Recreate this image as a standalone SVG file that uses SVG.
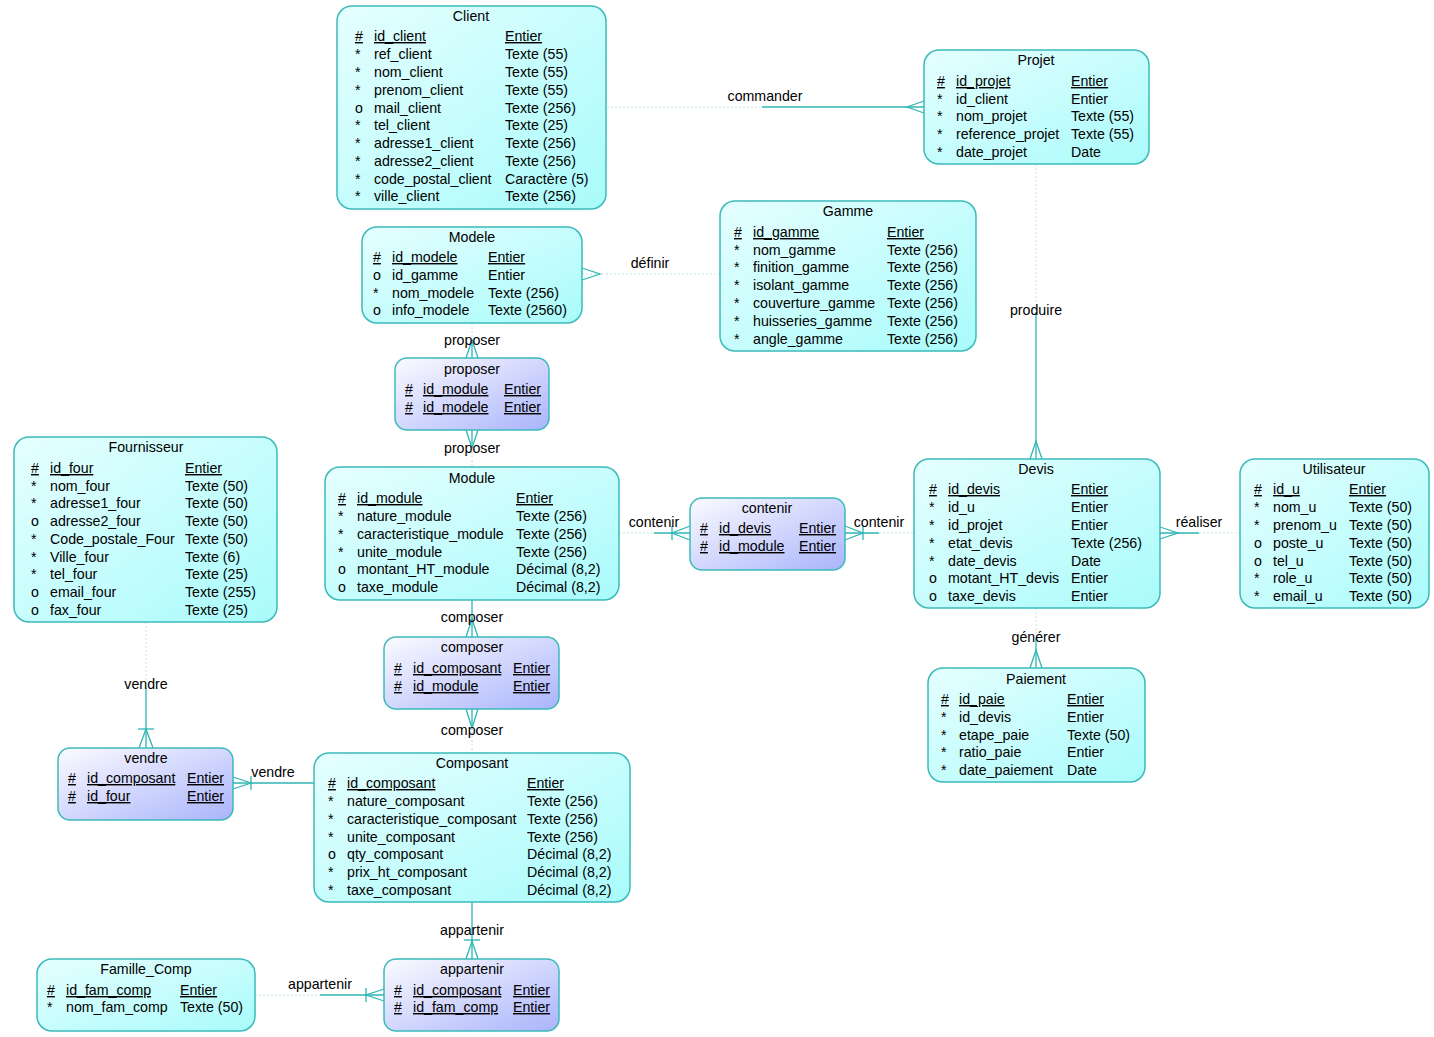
<svg xmlns="http://www.w3.org/2000/svg" width="1434" height="1037" viewBox="0 0 1434 1037">
<defs>
<linearGradient id="gEnt" x1="0" y1="0" x2="1" y2="1">
<stop offset="0" stop-color="#e6ffff"/>
<stop offset="1" stop-color="#a9fbfb"/>
</linearGradient>
<linearGradient id="gRel" x1="0" y1="0" x2="1" y2="1">
<stop offset="0" stop-color="#fbfbff"/>
<stop offset="1" stop-color="#aab4fb"/>
</linearGradient>
</defs>
<style>
text{font-family:"Liberation Sans",Arial,sans-serif;font-size:14.2px;fill:#000}
.t{text-anchor:middle}
.pk{text-decoration:underline;text-decoration-thickness:2px}
.ent{fill:url(#gEnt);stroke:#3bbaba;stroke-width:1.5}
.rel{fill:url(#gRel);stroke:#3bbaba;stroke-width:1.5}
.s{stroke:#2fb5b5;stroke-width:1.3;fill:none}
.f{stroke:#bfe6e6;stroke-width:1;fill:none;stroke-dasharray:2 2}
</style>
<rect width="1434" height="1037" fill="#fff"/>

<g id="connectors">
<line class="f" x1="607" y1="107" x2="762" y2="107"/>
<line class="s" x1="762" y1="107" x2="924" y2="107"/>
<polyline class="s" points="924,101 907,107 924,113"/>
<text class="t" x="765" y="101">commander</text>
<line class="f" x1="582" y1="274" x2="720" y2="274"/>
<polyline class="s" points="582,268 600,274 582,280"/>
<text class="t" x="650" y="268">définir</text>
<line class="f" x1="472" y1="323" x2="472" y2="342"/>
<line class="s" x1="472" y1="340" x2="472" y2="358"/>
<polyline class="s" points="466,358 472,340 478,358"/>
<text class="t" x="472" y="345">proposer</text>
<line class="s" x1="472" y1="430" x2="472" y2="448"/>
<polyline class="s" points="466,430 472,448 478,430"/>
<line class="f" x1="472" y1="448" x2="472" y2="467"/>
<text class="t" x="472" y="453">proposer</text>
<line class="f" x1="619" y1="533" x2="654" y2="533"/>
<line class="s" x1="654" y1="533" x2="690" y2="533"/>
<polyline class="s" points="690,526 672,533 690,540"/>
<line class="s" x1="672" y1="526" x2="672" y2="540"/>
<text class="t" x="654" y="527">contenir</text>
<line class="s" x1="845" y1="533" x2="879" y2="533"/>
<polyline class="s" points="845,526 863,533 845,540"/>
<line class="s" x1="863" y1="526" x2="863" y2="540"/>
<line class="f" x1="879" y1="533" x2="914" y2="533"/>
<text class="t" x="879" y="527">contenir</text>
<line class="s" x1="1160" y1="533" x2="1199" y2="533"/>
<polyline class="s" points="1160,527 1178,533 1160,539"/>
<line class="f" x1="1199" y1="533" x2="1240" y2="533"/>
<text class="t" x="1199" y="527">réaliser</text>
<line class="f" x1="1036" y1="164" x2="1036" y2="312"/>
<line class="s" x1="1036" y1="312" x2="1036" y2="459"/>
<polyline class="s" points="1030,459 1036,441 1042,459"/>
<text class="t" x="1036" y="315">produire</text>
<line class="f" x1="1036" y1="608" x2="1036" y2="638"/>
<line class="s" x1="1036" y1="638" x2="1036" y2="668"/>
<polyline class="s" points="1030,668 1036,650 1042,668"/>
<text class="t" x="1036" y="642">générer</text>
<line class="s" x1="472" y1="600" x2="472" y2="637"/>
<polyline class="s" points="466,637 472,619 478,637"/>
<text class="t" x="472" y="622">composer</text>
<line class="s" x1="472" y1="709" x2="472" y2="728"/>
<polyline class="s" points="466,709 472,728 478,709"/>
<line class="f" x1="472" y1="728" x2="472" y2="753"/>
<text class="t" x="472" y="735">composer</text>
<line class="f" x1="146" y1="622" x2="146" y2="688"/>
<line class="s" x1="146" y1="688" x2="146" y2="748"/>
<polyline class="s" points="139,748 146,729 153,748"/>
<line class="s" x1="138" y1="729" x2="154" y2="729"/>
<text class="t" x="146" y="689">vendre</text>
<line class="s" x1="233" y1="783" x2="314" y2="783"/>
<polyline class="s" points="233,777 251,783 233,789"/>
<line class="s" x1="251" y1="776" x2="251" y2="790"/>
<text class="t" x="273" y="777">vendre</text>
<line class="s" x1="472" y1="902" x2="472" y2="959"/>
<polyline class="s" points="466,959 472,941 478,959"/>
<line class="s" x1="464" y1="940" x2="480" y2="940"/>
<text class="t" x="472" y="935">appartenir</text>
<line class="f" x1="255" y1="995" x2="320" y2="995"/>
<line class="s" x1="320" y1="995" x2="384" y2="995"/>
<polyline class="s" points="384,989 366,995 384,1001"/>
<line class="s" x1="366" y1="988" x2="366" y2="1002"/>
<text class="t" x="320" y="989">appartenir</text>
</g>

<g id="Client">
<rect class="ent" x="337" y="6" width="269" height="203" rx="15"/>
<text class="t" x="471" y="21">Client</text>
<text class="pk" x="355" y="41">#</text><text class="pk" x="374" y="41">id_client</text><text class="pk" x="505" y="41">Entier</text>
<text x="355" y="59">*</text><text x="374" y="59">ref_client</text><text x="505" y="59">Texte (55)</text>
<text x="355" y="77">*</text><text x="374" y="77">nom_client</text><text x="505" y="77">Texte (55)</text>
<text x="355" y="95">*</text><text x="374" y="95">prenom_client</text><text x="505" y="95">Texte (55)</text>
<text x="355" y="113">o</text><text x="374" y="113">mail_client</text><text x="505" y="113">Texte (256)</text>
<text x="355" y="130">*</text><text x="374" y="130">tel_client</text><text x="505" y="130">Texte (25)</text>
<text x="355" y="148">*</text><text x="374" y="148">adresse1_client</text><text x="505" y="148">Texte (256)</text>
<text x="355" y="166">*</text><text x="374" y="166">adresse2_client</text><text x="505" y="166">Texte (256)</text>
<text x="355" y="184">*</text><text x="374" y="184">code_postal_client</text><text x="505" y="184">Caractère (5)</text>
<text x="355" y="201">*</text><text x="374" y="201">ville_client</text><text x="505" y="201">Texte (256)</text>
</g>

<g id="Projet">
<rect class="ent" x="924" y="50" width="225" height="114" rx="15"/>
<text class="t" x="1036" y="65">Projet</text>
<text class="pk" x="937" y="86">#</text><text class="pk" x="956" y="86">id_projet</text><text class="pk" x="1071" y="86">Entier</text>
<text x="937" y="104">*</text><text x="956" y="104">id_client</text><text x="1071" y="104">Entier</text>
<text x="937" y="121">*</text><text x="956" y="121">nom_projet</text><text x="1071" y="121">Texte (55)</text>
<text x="937" y="139">*</text><text x="956" y="139">reference_projet</text><text x="1071" y="139">Texte (55)</text>
<text x="937" y="157">*</text><text x="956" y="157">date_projet</text><text x="1071" y="157">Date</text>
</g>

<g id="Modele">
<rect class="ent" x="362" y="227" width="220" height="96" rx="15"/>
<text class="t" x="472" y="242">Modele</text>
<text class="pk" x="373" y="262">#</text><text class="pk" x="392" y="262">id_modele</text><text class="pk" x="488" y="262">Entier</text>
<text x="373" y="280">o</text><text x="392" y="280">id_gamme</text><text x="488" y="280">Entier</text>
<text x="373" y="298">*</text><text x="392" y="298">nom_modele</text><text x="488" y="298">Texte (256)</text>
<text x="373" y="315">o</text><text x="392" y="315">info_modele</text><text x="488" y="315">Texte (2560)</text>
</g>

<g id="Gamme">
<rect class="ent" x="720" y="201" width="256" height="150" rx="15"/>
<text class="t" x="848" y="216">Gamme</text>
<text class="pk" x="734" y="237">#</text><text class="pk" x="753" y="237">id_gamme</text><text class="pk" x="887" y="237">Entier</text>
<text x="734" y="255">*</text><text x="753" y="255">nom_gamme</text><text x="887" y="255">Texte (256)</text>
<text x="734" y="272">*</text><text x="753" y="272">finition_gamme</text><text x="887" y="272">Texte (256)</text>
<text x="734" y="290">*</text><text x="753" y="290">isolant_gamme</text><text x="887" y="290">Texte (256)</text>
<text x="734" y="308">*</text><text x="753" y="308">couverture_gamme</text><text x="887" y="308">Texte (256)</text>
<text x="734" y="326">*</text><text x="753" y="326">huisseries_gamme</text><text x="887" y="326">Texte (256)</text>
<text x="734" y="344">*</text><text x="753" y="344">angle_gamme</text><text x="887" y="344">Texte (256)</text>
</g>

<g id="proposer">
<rect class="rel" x="395" y="358" width="154" height="72" rx="12"/>
<text class="t" x="472" y="374">proposer</text>
<text class="pk" x="405" y="394">#</text><text class="pk" x="423" y="394">id_module</text><text class="pk" x="504" y="394">Entier</text>
<text class="pk" x="405" y="412">#</text><text class="pk" x="423" y="412">id_modele</text><text class="pk" x="504" y="412">Entier</text>
</g>

<g id="Fournisseur">
<rect class="ent" x="14" y="437" width="263" height="185" rx="15"/>
<text class="t" x="146" y="452">Fournisseur</text>
<text class="pk" x="31" y="473">#</text><text class="pk" x="50" y="473">id_four</text><text class="pk" x="185" y="473">Entier</text>
<text x="31" y="491">*</text><text x="50" y="491">nom_four</text><text x="185" y="491">Texte (50)</text>
<text x="31" y="508">*</text><text x="50" y="508">adresse1_four</text><text x="185" y="508">Texte (50)</text>
<text x="31" y="526">o</text><text x="50" y="526">adresse2_four</text><text x="185" y="526">Texte (50)</text>
<text x="31" y="544">*</text><text x="50" y="544">Code_postale_Four</text><text x="185" y="544">Texte (50)</text>
<text x="31" y="562">*</text><text x="50" y="562">Ville_four</text><text x="185" y="562">Texte (6)</text>
<text x="31" y="579">*</text><text x="50" y="579">tel_four</text><text x="185" y="579">Texte (25)</text>
<text x="31" y="597">o</text><text x="50" y="597">email_four</text><text x="185" y="597">Texte (255)</text>
<text x="31" y="615">o</text><text x="50" y="615">fax_four</text><text x="185" y="615">Texte (25)</text>
</g>

<g id="Module">
<rect class="ent" x="325" y="467" width="294" height="133" rx="15"/>
<text class="t" x="472" y="483">Module</text>
<text class="pk" x="338" y="503">#</text><text class="pk" x="357" y="503">id_module</text><text class="pk" x="516" y="503">Entier</text>
<text x="338" y="521">*</text><text x="357" y="521">nature_module</text><text x="516" y="521">Texte (256)</text>
<text x="338" y="539">*</text><text x="357" y="539">caracteristique_module</text><text x="516" y="539">Texte (256)</text>
<text x="338" y="557">*</text><text x="357" y="557">unite_module</text><text x="516" y="557">Texte (256)</text>
<text x="338" y="574">o</text><text x="357" y="574">montant_HT_module</text><text x="516" y="574">Décimal (8,2)</text>
<text x="338" y="592">o</text><text x="357" y="592">taxe_module</text><text x="516" y="592">Décimal (8,2)</text>
</g>

<g id="contenir">
<rect class="rel" x="690" y="498" width="155" height="72" rx="12"/>
<text class="t" x="767" y="513">contenir</text>
<text class="pk" x="700" y="533">#</text><text class="pk" x="719" y="533">id_devis</text><text class="pk" x="799" y="533">Entier</text>
<text class="pk" x="700" y="551">#</text><text class="pk" x="719" y="551">id_module</text><text class="pk" x="799" y="551">Entier</text>
</g>

<g id="Devis">
<rect class="ent" x="914" y="459" width="246" height="149" rx="15"/>
<text class="t" x="1036" y="474">Devis</text>
<text class="pk" x="929" y="494">#</text><text class="pk" x="948" y="494">id_devis</text><text class="pk" x="1071" y="494">Entier</text>
<text x="929" y="512">*</text><text x="948" y="512">id_u</text><text x="1071" y="512">Entier</text>
<text x="929" y="530">*</text><text x="948" y="530">id_projet</text><text x="1071" y="530">Entier</text>
<text x="929" y="548">*</text><text x="948" y="548">etat_devis</text><text x="1071" y="548">Texte (256)</text>
<text x="929" y="566">*</text><text x="948" y="566">date_devis</text><text x="1071" y="566">Date</text>
<text x="929" y="583">o</text><text x="948" y="583">motant_HT_devis</text><text x="1071" y="583">Entier</text>
<text x="929" y="601">o</text><text x="948" y="601">taxe_devis</text><text x="1071" y="601">Entier</text>
</g>

<g id="Utilisateur">
<rect class="ent" x="1240" y="459" width="189" height="149" rx="15"/>
<text class="t" x="1334" y="474">Utilisateur</text>
<text class="pk" x="1254" y="494">#</text><text class="pk" x="1273" y="494">id_u</text><text class="pk" x="1349" y="494">Entier</text>
<text x="1254" y="512">*</text><text x="1273" y="512">nom_u</text><text x="1349" y="512">Texte (50)</text>
<text x="1254" y="530">*</text><text x="1273" y="530">prenom_u</text><text x="1349" y="530">Texte (50)</text>
<text x="1254" y="548">o</text><text x="1273" y="548">poste_u</text><text x="1349" y="548">Texte (50)</text>
<text x="1254" y="566">o</text><text x="1273" y="566">tel_u</text><text x="1349" y="566">Texte (50)</text>
<text x="1254" y="583">*</text><text x="1273" y="583">role_u</text><text x="1349" y="583">Texte (50)</text>
<text x="1254" y="601">*</text><text x="1273" y="601">email_u</text><text x="1349" y="601">Texte (50)</text>
</g>

<g id="Paiement">
<rect class="ent" x="928" y="668" width="217" height="114" rx="15"/>
<text class="t" x="1036" y="684">Paiement</text>
<text class="pk" x="941" y="704">#</text><text class="pk" x="959" y="704">id_paie</text><text class="pk" x="1067" y="704">Entier</text>
<text x="941" y="722">*</text><text x="959" y="722">id_devis</text><text x="1067" y="722">Entier</text>
<text x="941" y="740">*</text><text x="959" y="740">etape_paie</text><text x="1067" y="740">Texte (50)</text>
<text x="941" y="757">*</text><text x="959" y="757">ratio_paie</text><text x="1067" y="757">Entier</text>
<text x="941" y="775">*</text><text x="959" y="775">date_paiement</text><text x="1067" y="775">Date</text>
</g>

<g id="composer">
<rect class="rel" x="384" y="637" width="175" height="72" rx="12"/>
<text class="t" x="472" y="652">composer</text>
<text class="pk" x="394" y="673">#</text><text class="pk" x="413" y="673">id_composant</text><text class="pk" x="513" y="673">Entier</text>
<text class="pk" x="394" y="691">#</text><text class="pk" x="413" y="691">id_module</text><text class="pk" x="513" y="691">Entier</text>
</g>

<g id="Composant">
<rect class="ent" x="314" y="753" width="316" height="149" rx="15"/>
<text class="t" x="472" y="768">Composant</text>
<text class="pk" x="328" y="788">#</text><text class="pk" x="347" y="788">id_composant</text><text class="pk" x="527" y="788">Entier</text>
<text x="328" y="806">*</text><text x="347" y="806">nature_composant</text><text x="527" y="806">Texte (256)</text>
<text x="328" y="824">*</text><text x="347" y="824">caracteristique_composant</text><text x="527" y="824">Texte (256)</text>
<text x="328" y="842">*</text><text x="347" y="842">unite_composant</text><text x="527" y="842">Texte (256)</text>
<text x="328" y="859">o</text><text x="347" y="859">qty_composant</text><text x="527" y="859">Décimal (8,2)</text>
<text x="328" y="877">*</text><text x="347" y="877">prix_ht_composant</text><text x="527" y="877">Décimal (8,2)</text>
<text x="328" y="895">*</text><text x="347" y="895">taxe_composant</text><text x="527" y="895">Décimal (8,2)</text>
</g>

<g id="vendre">
<rect class="rel" x="58" y="748" width="175" height="72" rx="12"/>
<text class="t" x="146" y="763">vendre</text>
<text class="pk" x="68" y="783">#</text><text class="pk" x="87" y="783">id_composant</text><text class="pk" x="187" y="783">Entier</text>
<text class="pk" x="68" y="801">#</text><text class="pk" x="87" y="801">id_four</text><text class="pk" x="187" y="801">Entier</text>
</g>

<g id="appartenir">
<rect class="rel" x="384" y="959" width="175" height="72" rx="12"/>
<text class="t" x="472" y="974">appartenir</text>
<text class="pk" x="394" y="995">#</text><text class="pk" x="413" y="995">id_composant</text><text class="pk" x="513" y="995">Entier</text>
<text class="pk" x="394" y="1012">#</text><text class="pk" x="413" y="1012">id_fam_comp</text><text class="pk" x="513" y="1012">Entier</text>
</g>

<g id="Famille_Comp">
<rect class="ent" x="37" y="959" width="218" height="72" rx="15"/>
<text class="t" x="146" y="974">Famille_Comp</text>
<text class="pk" x="47" y="995">#</text><text class="pk" x="66" y="995">id_fam_comp</text><text class="pk" x="180" y="995">Entier</text>
<text x="47" y="1012">*</text><text x="66" y="1012">nom_fam_comp</text><text x="180" y="1012">Texte (50)</text>
</g>
</svg>
